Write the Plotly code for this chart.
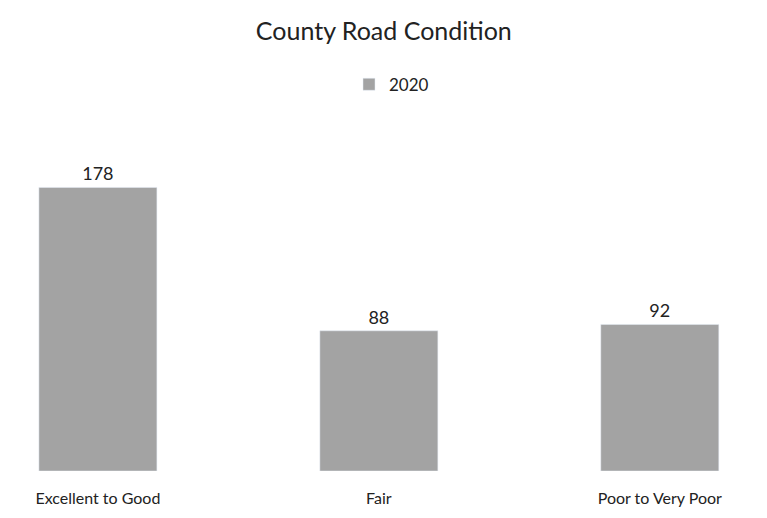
import plotly.graph_objs as go

categories = ['Excellent to Good', 'Fair', 'Poor to Very Poor']
values_2020 = [178, 88, 92]
series_name = '2020'

bar_color = '#a3a3a3'

fig = go.Figure()
fig.add_trace(go.Bar(
    x=categories,
    y=values_2020,
    name=series_name,
    marker=dict(color=bar_color),
    width=0.42,
    text=values_2020,
    textposition='outside',
    textfont=dict(size=18, color='#222222'),
    cliponaxis=False,
    showlegend=True,
))

fig.update_layout(
    title=dict(
        text='County Road Condition',
        x=0.49, xanchor='center',
        y=0.955, yref='container', yanchor='middle',
        font=dict(size=25, color='#222222'),
    ),
    font=dict(family='Lato, Open Sans, sans-serif', size=15, color='#222222'),
    legend=dict(
        orientation='h',
        x=0.5, xanchor='center',
        y=1.16, yanchor='middle',
        font=dict(size=17),
    ),
    margin=dict(l=0, r=0, t=130, b=55, pad=0),
    width=767,
    height=518,
    plot_bgcolor='#fff',
    paper_bgcolor='#fff',
)

fig.update_xaxes(
    range=[-0.32, 2.41],
    showgrid=False,
    showline=False,
    ticks='',
    ticklabelstandoff=16,
    tickfont=dict(size=16),
)
fig.update_yaxes(
    range=[0, 209],
    visible=False,
)

fig.write_html("out.html")
